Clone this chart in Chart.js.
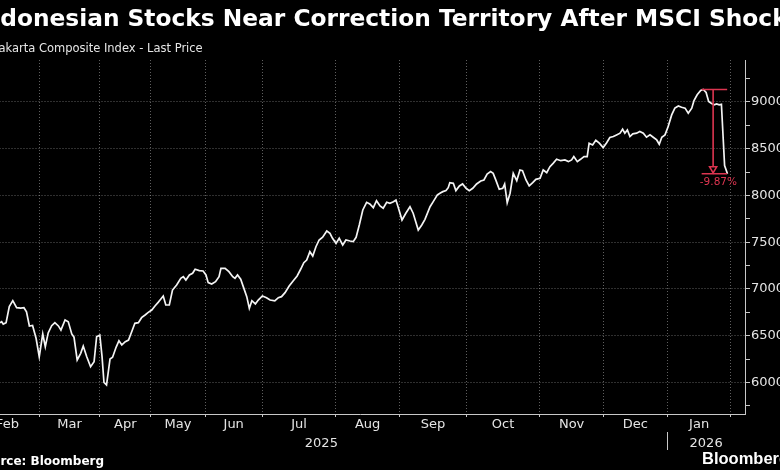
<!DOCTYPE html>
<html>
<head>
<meta charset="utf-8">
<script src="https://cdn.jsdelivr.net/npm/chart.js@4.4.1/dist/chart.umd.min.js"></script>
<style>
  html, body { margin: 0; padding: 0; background: #000; }
  body { width: 780px; height: 470px; overflow: hidden; position: relative; font-family: "DejaVu Sans", sans-serif; }
  #wrap { position: absolute; left: -40px; top: 0; width: 830px; height: 470px; }
  .txt { position: absolute; white-space: nowrap; color: #fff; }
  #title { left: -25px; top: 6.3px; font-size: 23.3px; line-height: 23.3px; font-weight: bold; }
  #subtitle { left: -5px; top: 43px; font-size: 11.5px; line-height: 11.5px; color: #e6e6e6; }
  #source { left: -25px; top: 455px; font-size: 12px; line-height: 12px; font-weight: bold; }
  #logo { left: 702px; top: 450px; font-family: "Liberation Sans", Arial, sans-serif; font-size: 16.5px; line-height: 16.5px; font-weight: bold; }
</style>
</head>
<body>
<div id="wrap"><canvas id="c" width="830" height="470"></canvas></div>
<div class="txt" id="title">Indonesian Stocks Near Correction Territory After MSCI Shock</div>
<div class="txt" id="subtitle">Jakarta Composite Index - Last Price</div>
<div class="txt" id="source">Source: Bloomberg</div>
<div class="txt" id="logo">Bloomberg</div>
<script>
// Trading-day index (0 = first trading day of March 2025)
const days = [
  -12.3, -11.8, -11.3, -10.4, -9.4, -8.3, -7.1, -5.8, -4.8, -4.0, -3.1, -2.1, -1.0, 0.0,
  1.1, 1.9, 2.8, 3.9, 4.9, 6.0, 6.8, 8.1, 9.1, 10.2, 10.9, 11.9, 13.0, 13.8, 14.9, 16.1,
  17.2, 18.0, 19.0, 19.7, 20.3, 21.1, 22.2, 23.0, 24.1, 25.0, 25.9, 27.0, 28.0, 29.0,
  30.0, 31.1, 32.1, 33.2, 34.2, 35.3, 36.3, 37.3, 37.9, 38.9, 39.7, 40.8, 41.8, 43.1,
  44.4, 45.2, 46.0, 47.1, 48.1, 48.9, 50.2, 51.4, 52.3, 53.0, 54.1, 55.3, 56.4, 57.0,
  58.3, 59.5, 60.7, 61.4, 62.2, 63.2, 64.0, 65.1, 65.9, 66.7, 67.8, 68.7, 70.0, 71.3,
  72.4, 73.9, 75.0, 76.0, 77.1, 78.4, 79.7, 80.9, 82.0, 83.0, 83.9, 84.9, 85.8, 86.8,
  87.8, 88.9, 90.2, 91.2, 92.0, 93.1, 94.1, 95.2, 96.2, 97.5, 98.5, 99.4, 100.4, 101.5,
  102.7, 103.7, 104.8, 105.8, 106.9, 107.9, 109.0, 110.0, 111.1, 111.9, 112.7, 113.8,
  115.0, 116.3, 117.3, 118.9, 120.0, 121.0, 122.6, 123.6, 124.9, 125.7, 126.6, 127.6,
  128.3, 128.8, 129.9, 130.7, 131.8, 132.8, 133.9, 134.9, 136.0, 137.2, 138.5, 139.5,
  140.5, 141.6, 142.4, 143.3, 144.3, 145.4, 146.0, 146.8, 147.7, 148.7, 149.8, 150.8,
  151.6, 152.7, 153.7, 154.8, 155.8, 157.1, 158.1, 159.2, 160.2, 161.2, 162.3, 163.6,
  164.9, 166.0, 167.0, 167.7, 168.8, 169.8, 170.9, 171.9, 172.5, 173.6, 174.6, 175.7,
  176.9, 178.0, 179.0, 180.1, 181.1, 182.2, 183.0, 183.7, 184.5, 185.3, 186.2, 187.4,
  188.4, 189.5, 190.5, 191.6, 192.6, 193.7, 194.5, 195.3, 196.3, 197.3, 198.4, 199.4,
  200.5, 201.5, 202.6, 203.6, 204.7, 205.4, 206.4, 207.5, 208.3, 209.2, 210.0, 210.8,
  211.7, 212.5, 213.3, 214.0, 215.0, 215.9
];
const closes = [
  6640, 6650, 6625, 6640, 6811, 6875, 6800, 6795, 6800, 6757, 6604, 6610, 6473, 6276,
  6519, 6383, 6530, 6608, 6640, 6605, 6561, 6668, 6650, 6519, 6485, 6241, 6312, 6390, 6276, 6169,
  6223, 6490, 6508, 6276, 6000, 5973, 6251, 6270, 6376, 6447, 6401, 6436, 6454, 6543,
  6633, 6640, 6693, 6722, 6750, 6775, 6818, 6857, 6882, 6925, 6829, 6829, 6989, 7043,
  7114, 7132, 7096, 7150, 7168, 7211, 7197, 7193, 7150, 7068, 7053, 7078, 7132, 7221,
  7221, 7185, 7132, 7114, 7150, 7104, 7025, 6918, 6793, 6875, 6840, 6882, 6925, 6907,
  6882, 6872, 6907, 6918, 6961, 7032, 7089, 7139, 7211, 7281, 7310, 7399, 7353, 7452,
  7524, 7553, 7620, 7595, 7542, 7488, 7542, 7470, 7524, 7513, 7506, 7553, 7684, 7845,
  7927, 7909, 7870, 7944, 7888, 7863, 7927, 7916, 7934, 7952, 7863, 7738,
  7810, 7880, 7810, 7631, 7684, 7745, 7880, 7934, 8006, 8024, 8041, 8052,
  8083, 8137, 8130, 8052, 8102, 8123, 8077, 8052, 8077, 8123, 8155, 8166,
  8230, 8255, 8237, 8159, 8066, 8077, 8123, 7923, 8024, 8237, 8159, 8273,
  8266, 8166, 8102, 8137, 8173, 8184, 8273, 8244, 8308, 8344, 8387, 8372,
  8380, 8362, 8380, 8416, 8362, 8387, 8416, 8416, 8559, 8540, 8590, 8560,
  8512, 8565, 8620, 8630, 8648, 8666, 8709, 8666, 8701, 8630, 8659, 8666,
  8684, 8666, 8623, 8648, 8623, 8594, 8548, 8623, 8648, 8737, 8862, 8934,
  8958, 8944, 8934, 8880, 8934, 9016, 9077, 9123, 9134, 9102, 9005, 8987,
  8969, 8980, 8969, 8975, 8320, 8232
];
// Month boundaries (trading-day index) and labels
const monthStarts = [-20, 0, 19, 35, 52, 70, 93, 113, 134, 157, 177, 197, 217];
const monthLabels = ['Feb', 'Mar', 'Apr', 'May', 'Jun', 'Jul', 'Aug', 'Sep', 'Oct', 'Nov', 'Dec', 'Jan'];
const yearLabels = ['2025', '2026'];
const yearStarts = [-20, 197];
const yTickValues = [5750, 6000, 6250, 6500, 6750, 7000, 7250, 7500, 7750, 8000, 8250, 8500, 8750, 9000, 9250];
const yLabelValues = [6000, 6500, 7000, 7500, 8000, 8500, 9000];
// Drawdown annotation
const drawdownFrom = [207.8, 9134];
const drawdownTo = [215.8, 8232];
const drawdownArrowDay = 211.4;
const drawdownLabel = '-9.87%';

const X_MIN = -20, X_MAX = 221.4, Y_MIN = 5663, Y_MAX = 9449;

const monthMid = monthLabels.map((m, i) => (monthStarts[i] + monthStarts[i + 1]) / 2);
const yearMid = yearLabels.map((y, i) => ((yearStarts[i]) + (i + 1 < yearStarts.length ? yearStarts[i + 1] : X_MAX)) / 2);
const labelAt = new Map(monthMid.map((v, i) => [v, monthLabels[i]]));
const yearAt = new Map(yearMid.map((v, i) => [v, yearLabels[i]]));
const isBoundary = v => monthStarts.includes(v);

const GRID = 'rgba(190,190,190,0.5)';
const AXIS = '#c8c8c8';
const TXT = '#e4e4e4';
const RED = '#dc3550';
const FONT = { family: 'DejaVu Sans', size: 13 };

const annot = {
  id: 'annot',
  afterDatasetsDraw(chart) {
    const { ctx, scales: { x, y } } = chart;
    const x1 = x.getPixelForValue(drawdownFrom[0]);
    const x2 = x.getPixelForValue(drawdownTo[0]);
    const xm = x.getPixelForValue(drawdownArrowDay);
    const yt = y.getPixelForValue(drawdownFrom[1]);
    const yb = y.getPixelForValue(drawdownTo[1]);
    ctx.save();
    ctx.strokeStyle = RED;
    ctx.lineWidth = 1.6;
    ctx.beginPath();
    ctx.moveTo(x1, yt); ctx.lineTo(x2, yt);
    ctx.moveTo(x1, yb); ctx.lineTo(x2, yb);
    ctx.moveTo(xm, yt); ctx.lineTo(xm, yb - 7);
    ctx.stroke();
    ctx.beginPath();
    ctx.moveTo(xm - 3.5, yb - 7); ctx.lineTo(xm + 3.5, yb - 7); ctx.lineTo(xm, yb - 1); ctx.closePath();
    ctx.fillStyle = '#000';
    ctx.fill();
    ctx.stroke();
    ctx.fillStyle = RED;
    ctx.font = '10.5px "DejaVu Sans"';
    ctx.textAlign = 'center';
    ctx.textBaseline = 'alphabetic';
    ctx.fillText(drawdownLabel, (x1 + x2) / 2 + 4, yb + 11.5);
    ctx.restore();
  },
  afterDraw(chart) {
    const { ctx, scales: { x, yr } } = chart;
    const xs = x.getPixelForValue(yearStarts[1]);
    ctx.save();
    ctx.strokeStyle = AXIS;
    ctx.lineWidth = 1;
    ctx.beginPath();
    ctx.moveTo(Math.round(xs) + 0.5, yr.top);
    ctx.lineTo(Math.round(xs) + 0.5, yr.top + 18);
    ctx.stroke();
    ctx.restore();
  }
};

new Chart(document.getElementById('c'), {
  type: 'line',
  data: {
    datasets: [{
      data: days.map((d, i) => ({ x: d, y: closes[i] })),
      borderColor: '#f4f4f4',
      borderWidth: 1.7,
      pointRadius: 0,
      tension: 0,
      fill: false
    }]
  },
  options: {
    responsive: false,
    animation: false,
    events: [],
    layout: { padding: { left: 15.5, top: 60, right: 0, bottom: 18 } },
    plugins: { legend: { display: false }, tooltip: { enabled: false }, title: { display: false } },
    scales: {
      x: {
        type: 'linear', position: 'bottom', min: X_MIN, max: X_MAX, weight: 0,
        afterBuildTicks(s) { s.ticks = monthStarts.concat(monthMid).map(v => ({ value: v })); },
        afterFit(s) { s.height = 18; },
        ticks: {
          autoSkip: false, maxRotation: 0, minRotation: 0, color: TXT, font: FONT, padding: 0,
          callback: v => labelAt.get(v) || ''
        },
        grid: {
          color: c => (c.tick && isBoundary(c.tick.value)) ? GRID : 'transparent',
          tickColor: c => (c.tick && isBoundary(c.tick.value)) ? AXIS : 'transparent',
          tickLength: 3, lineWidth: 1, drawOnChartArea: true
        },
        border: { display: true, color: AXIS, width: 1, dash: [1, 2] }
      },
      yr: {
        type: 'linear', position: 'bottom', min: X_MIN, max: X_MAX, weight: 1,
        afterBuildTicks(s) { s.ticks = yearMid.map(v => ({ value: v })); },
        afterFit(s) { s.height = 20; },
        ticks: { autoSkip: false, maxRotation: 0, minRotation: 0, color: TXT, font: FONT, padding: -4,
          callback: v => yearAt.get(v) || '' },
        grid: { display: false },
        border: { display: false }
      },
      y: {
        type: 'linear', position: 'right', min: Y_MIN, max: Y_MAX,
        afterBuildTicks(s) { s.ticks = yTickValues.map(v => ({ value: v })); },
        afterFit(s) { s.width = 45; },
        ticks: { autoSkip: false, color: TXT, font: FONT, padding: 1,
          callback: v => yLabelValues.includes(v) ? String(v) : '' },
        grid: {
          color: c => (c.tick && yLabelValues.includes(c.tick.value)) ? GRID : 'transparent',
          tickColor: AXIS, tickLength: 5, lineWidth: 1
        },
        border: { display: true, color: AXIS, width: 1, dash: [1, 2] }
      }
    }
  },
  plugins: [annot]
});
</script>
</body>
</html>
